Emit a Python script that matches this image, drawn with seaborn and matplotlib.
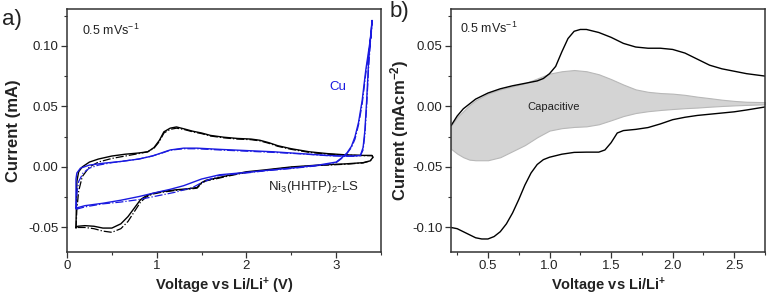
import matplotlib
matplotlib.use('Agg')
import matplotlib.pyplot as plt
from matplotlib.ticker import MultipleLocator, FormatStrFormatter
import seaborn as sns

sns.set_theme(style='ticks')
plt.rcParams['font.family'] = ['Liberation Sans', 'DejaVu Sans']
plt.rcParams['mathtext.fontset'] = 'custom'
plt.rcParams['mathtext.rm'] = 'Liberation Sans'
plt.rcParams['mathtext.it'] = 'Liberation Sans'
plt.rcParams['mathtext.bf'] = 'Liberation Sans:bold'

# ---- panel a: CV of Ni3(HHTP)2-LS (black) and bare Cu (blue) ----
ni_v = [0.10, 0.105, 0.11, 0.13, 0.17, 0.25, 0.35, 0.5, 0.65, 0.8, 0.9, 0.97, 1.03, 1.08, 1.15,
        1.22, 1.3, 1.4, 1.5, 1.6, 1.75, 1.9, 2.05, 2.15, 2.25, 2.35, 2.5, 2.7, 2.9, 3.1, 3.3, 3.4,
        3.41, 3.38, 3.3, 3.1, 2.8, 2.5, 2.2, 2.0, 1.8, 1.65, 1.55, 1.5, 1.45, 1.35, 1.2, 1.05, 0.95,
        0.88, 0.82, 0.75, 0.68, 0.6, 0.5, 0.4, 0.3, 0.2, 0.12, 0.10]
ni_i = [-0.050, -0.030, -0.012, -0.004, 0.000, 0.004, 0.0065, 0.009, 0.0105, 0.0115, 0.0125, 0.016,
        0.022, 0.029, 0.032, 0.033, 0.0315, 0.0295, 0.028, 0.026, 0.0245, 0.0235, 0.023, 0.022, 0.020,
        0.0175, 0.015, 0.0125, 0.011, 0.010, 0.0095, 0.0095,
        0.008, 0.005, 0.0035, 0.0025, 0.0015, 0.000, -0.0025, -0.004, -0.007, -0.0095, -0.011, -0.013,
        -0.017, -0.018, -0.019, -0.0205, -0.022, -0.024, -0.027, -0.034, -0.041, -0.047, -0.0505,
        -0.0505, -0.049, -0.0485, -0.049, -0.050]

ni2_v = [0.10, 0.11, 0.13, 0.17, 0.25, 0.35, 0.5, 0.65, 0.8, 0.9, 0.97, 1.03, 1.08, 1.15, 1.22, 1.3,
         1.4, 1.5, 1.6, 1.75, 1.9, 2.05, 2.15, 2.25, 2.35, 2.5, 2.7, 2.9, 3.1, 3.3, 3.4,
         3.41, 3.38, 3.3, 3.1, 2.8, 2.5, 2.2, 2.0, 1.8, 1.65, 1.55, 1.5, 1.45, 1.35, 1.2, 1.05, 0.95,
         0.88, 0.82, 0.75, 0.68, 0.6, 0.5, 0.4, 0.3, 0.2, 0.12, 0.10]
ni2_i = [-0.051, -0.035, -0.020, -0.008, 0.000, 0.004, 0.007, 0.009, 0.011, 0.0125, 0.0155, 0.021,
         0.028, 0.031, 0.032, 0.031, 0.029, 0.0275, 0.0255, 0.024, 0.023, 0.0225, 0.0215, 0.0195,
         0.017, 0.0145, 0.012, 0.0105, 0.0098, 0.0093, 0.0093,
         0.0078, 0.005, 0.0033, 0.0022, 0.0012, -0.0003, -0.003, -0.0045, -0.0075, -0.010, -0.0115,
         -0.0135, -0.0175, -0.0185, -0.0195, -0.021, -0.0225, -0.025, -0.029, -0.037, -0.045, -0.051,
         -0.054, -0.053, -0.051, -0.050, -0.050, -0.051]

cu_v = [0.10, 0.10, 0.11, 0.15, 0.25, 0.4, 0.6, 0.8, 0.95, 1.05, 1.15, 1.3, 1.45, 1.7, 2.0, 2.3, 2.6,
        2.9, 3.1, 3.2, 3.27, 3.30, 3.32, 3.34, 3.36, 3.38, 3.40,
        3.39, 3.36, 3.33, 3.29, 3.25, 3.21, 3.17, 3.12, 3.07, 3.0, 2.8, 2.5, 2.2, 2.0, 1.7, 1.5, 1.3,
        1.15, 1.0, 0.8, 0.6, 0.4, 0.2, 0.10]
cu_i = [-0.034, -0.010, -0.005, -0.001, 0.0015, 0.003, 0.0045, 0.0065, 0.009, 0.0115, 0.014, 0.0155,
        0.0155, 0.0145, 0.0135, 0.0125, 0.011, 0.0095, 0.009, 0.009, 0.0095, 0.016, 0.030, 0.055,
        0.085, 0.105, 0.121,
        0.110, 0.095, 0.080, 0.055, 0.037, 0.025, 0.017, 0.0115, 0.008, 0.004, 0.0015, -0.001, -0.003,
        -0.0045, -0.0065, -0.010, -0.0155, -0.0185, -0.021, -0.0245, -0.0275, -0.030, -0.032, -0.034]

cu2_v = [0.10, 0.11, 0.13, 0.18, 0.25, 0.35, 0.5, 0.65, 0.8, 0.95, 1.05, 1.15, 1.3, 1.45, 1.7, 2.0,
         2.3, 2.6, 2.9, 3.1, 3.2, 3.27, 3.30, 3.32, 3.34, 3.36, 3.38, 3.40,
         3.39, 3.36, 3.33, 3.29, 3.25, 3.21, 3.17, 3.12, 3.07, 3.0, 2.8, 2.5, 2.2, 2.0, 1.7, 1.5,
         1.4, 1.2, 1.0, 0.8, 0.6, 0.4, 0.2, 0.10]
cu2_i = [-0.035, -0.022, -0.012, -0.005, -0.001, 0.0015, 0.0035, 0.005, 0.0065, 0.009, 0.0112,
         0.0138, 0.015, 0.015, 0.014, 0.013, 0.012, 0.0108, 0.0093, 0.0088, 0.0088, 0.0092, 0.014,
         0.027, 0.050, 0.080, 0.102, 0.120,
         0.108, 0.092, 0.077, 0.052, 0.035, 0.023, 0.016, 0.011, 0.0075, 0.0035, 0.001, -0.0013,
         -0.0033, -0.005, -0.007, -0.013, -0.017, -0.021, -0.024, -0.027, -0.029, -0.0305, -0.033,
         -0.035]

# ---- panel b: Ni3(HHTP)2-LS CV with capacitive contribution ----
b_up_v = [0.2, 0.25, 0.3, 0.35, 0.4, 0.5, 0.6, 0.7, 0.8, 0.9, 0.95, 1.0, 1.05, 1.1, 1.15, 1.2, 1.25,
          1.3, 1.4, 1.5, 1.6, 1.7, 1.8, 1.9, 2.0, 2.1, 2.2, 2.3, 2.4, 2.5, 2.6, 2.75]
b_up_i = [-0.016, -0.008, -0.002, 0.002, 0.006, 0.011, 0.0145, 0.017, 0.019, 0.021, 0.023, 0.027,
          0.033, 0.045, 0.056, 0.062, 0.0635, 0.0635, 0.061, 0.057, 0.052, 0.049, 0.048, 0.048, 0.047,
          0.044, 0.039, 0.034, 0.031, 0.029, 0.027, 0.025]

b_lo_v = [0.2, 0.25, 0.3, 0.35, 0.4, 0.45, 0.5, 0.55, 0.6, 0.65, 0.7, 0.75, 0.8, 0.85, 0.9, 0.95,
          1.0, 1.1, 1.2, 1.3, 1.4, 1.45, 1.5, 1.55, 1.6, 1.7, 1.8, 1.9, 2.0, 2.1, 2.2, 2.3, 2.4, 2.5,
          2.6, 2.75]
b_lo_i = [-0.100, -0.101, -0.1035, -0.106, -0.1085, -0.1095, -0.1095, -0.1075, -0.1035, -0.097,
          -0.088, -0.077, -0.065, -0.055, -0.048, -0.044, -0.042, -0.0395, -0.038, -0.0378, -0.0378,
          -0.036, -0.030, -0.022, -0.020, -0.019, -0.0175, -0.0145, -0.011, -0.009, -0.0075, -0.0065,
          -0.0055, -0.0045, -0.003, -0.0005]

cap_v = [0.2, 0.25, 0.3, 0.35, 0.4, 0.5, 0.6, 0.7, 0.8, 0.9, 1.0, 1.1, 1.2, 1.3, 1.4, 1.5, 1.6, 1.7,
         1.8, 1.9, 2.0, 2.1, 2.2, 2.3, 2.4, 2.5, 2.6, 2.75]
cap_top = [-0.016, -0.009, -0.004, 0.001, 0.005, 0.0105, 0.014, 0.0165, 0.019, 0.023, 0.027, 0.029,
           0.030, 0.029, 0.0265, 0.0225, 0.018, 0.014, 0.012, 0.011, 0.0105, 0.0095, 0.008, 0.0068,
           0.0055, 0.0045, 0.0038, 0.0035]
cap_bot = [-0.035, -0.039, -0.042, -0.044, -0.0445, -0.0445, -0.042, -0.037, -0.032, -0.0255, -0.020,
           -0.018, -0.017, -0.0165, -0.0148, -0.0115, -0.008, -0.0055, -0.004, -0.003, -0.0022,
           -0.0015, -0.001, -0.0003, 0.0003, 0.0008, 0.0012, 0.0017]

fig = plt.figure(figsize=(7.8, 2.98), dpi=100)
ax1 = fig.add_axes([0.0859, 0.1554, 0.4026, 0.8128])
ax2 = fig.add_axes([0.5782, 0.1554, 0.4026, 0.8128])

blue = '#1a1ae0'
sns.lineplot(x=ni_v, y=ni_i, sort=False, estimator=None, color='black', lw=1.0, ax=ax1)
sns.lineplot(x=ni2_v, y=ni2_i, sort=False, estimator=None, color='black', lw=0.9, linestyle='-.', ax=ax1)
sns.lineplot(x=cu2_v, y=cu2_i, sort=False, estimator=None, color=blue, lw=0.9, linestyle='-.', ax=ax1)
sns.lineplot(x=cu_v, y=cu_i, sort=False, estimator=None, color=blue, lw=1.0, ax=ax1)

ax2.fill_between(cap_v, cap_bot, cap_top, color='#d4d4d4', edgecolor='#b8b8b8', lw=0.8)
sns.lineplot(x=b_up_v, y=b_up_i, sort=False, estimator=None, color='black', lw=1.0, ax=ax2)
sns.lineplot(x=b_lo_v, y=b_lo_i, sort=False, estimator=None, color='black', lw=1.0, ax=ax2)

ax1.set_xlim(0, 3.5)
ax1.set_ylim(-0.07, 0.13)
ax1.xaxis.set_major_locator(MultipleLocator(1))
ax1.xaxis.set_minor_locator(MultipleLocator(0.5))
ax1.yaxis.set_major_locator(MultipleLocator(0.05))
ax1.yaxis.set_minor_locator(MultipleLocator(0.025))
ax1.xaxis.set_major_formatter(FormatStrFormatter('%g'))
ax1.yaxis.set_major_formatter(FormatStrFormatter('%.2f'))

ax2.set_xlim(0.2, 2.75)
ax2.set_ylim(-0.12, 0.08)
ax2.xaxis.set_major_locator(MultipleLocator(0.5))
ax2.xaxis.set_minor_locator(MultipleLocator(0.25))
ax2.yaxis.set_major_locator(MultipleLocator(0.05))
ax2.yaxis.set_minor_locator(MultipleLocator(0.025))
ax2.xaxis.set_major_formatter(FormatStrFormatter('%.1f'))
ax2.yaxis.set_major_formatter(FormatStrFormatter('%.2f'))

for ax in (ax1, ax2):
    for sp in ax.spines.values():
        sp.set_visible(True)
        sp.set_color('#333333')
        sp.set_linewidth(1.1)
    ax.tick_params(which='major', direction='out', length=4, width=0.9, color='#333333',
                   labelsize=9.5, labelcolor='#222222', pad=2)
    ax.tick_params(which='minor', direction='out', length=2.5, width=0.8, color='#333333')
    ax.tick_params(top=False, right=False, which='both')

ax1.set_xlabel('Voltage vs Li/Li$^{\\mathbf{+}}$ (V)', fontsize=10.5, fontweight='bold', color='#222222')
ax1.set_ylabel('Current (mA)', fontsize=12, fontweight='bold', color='#222222')
ax2.set_xlabel('Voltage vs Li/Li$^{\\mathbf{+}}$', fontsize=10.5, fontweight='bold', color='#222222')
ax2.set_ylabel('Current (mAcm$^{\\mathbf{-2}}$)', fontsize=12, fontweight='bold', color='#222222')
ax1.xaxis.set_label_coords(0.5, -0.1)
ax2.xaxis.set_label_coords(0.5, -0.1)
ax1.yaxis.set_label_coords(-0.148, 0.5)
ax2.yaxis.set_label_coords(-0.128, 0.5)

ax1.text(0.048, 0.895, '0.5 mVs$^{-1}$', transform=ax1.transAxes, fontsize=9, color='#222222')
ax2.text(0.029, 0.903, '0.5 mVs$^{-1}$', transform=ax2.transAxes, fontsize=9, color='#222222')
ax1.text(3.02, 0.0656, 'Cu', color=blue, fontsize=9.5, ha='center', va='center')
ax1.text(2.24, -0.0167, 'Ni$_3$(HHTP)$_2$-LS', color='#222222', fontsize=9.5, ha='left', va='center')
ax2.text(1.035, -0.0003, 'Capacitive', color='#222222', fontsize=8, ha='center', va='center')

fig.text(0.003, 0.915, 'a)', fontsize=16, color='#222222')
fig.text(0.500, 0.942, 'b)', fontsize=16, color='#222222')

fig.savefig('out.png', dpi=100)
